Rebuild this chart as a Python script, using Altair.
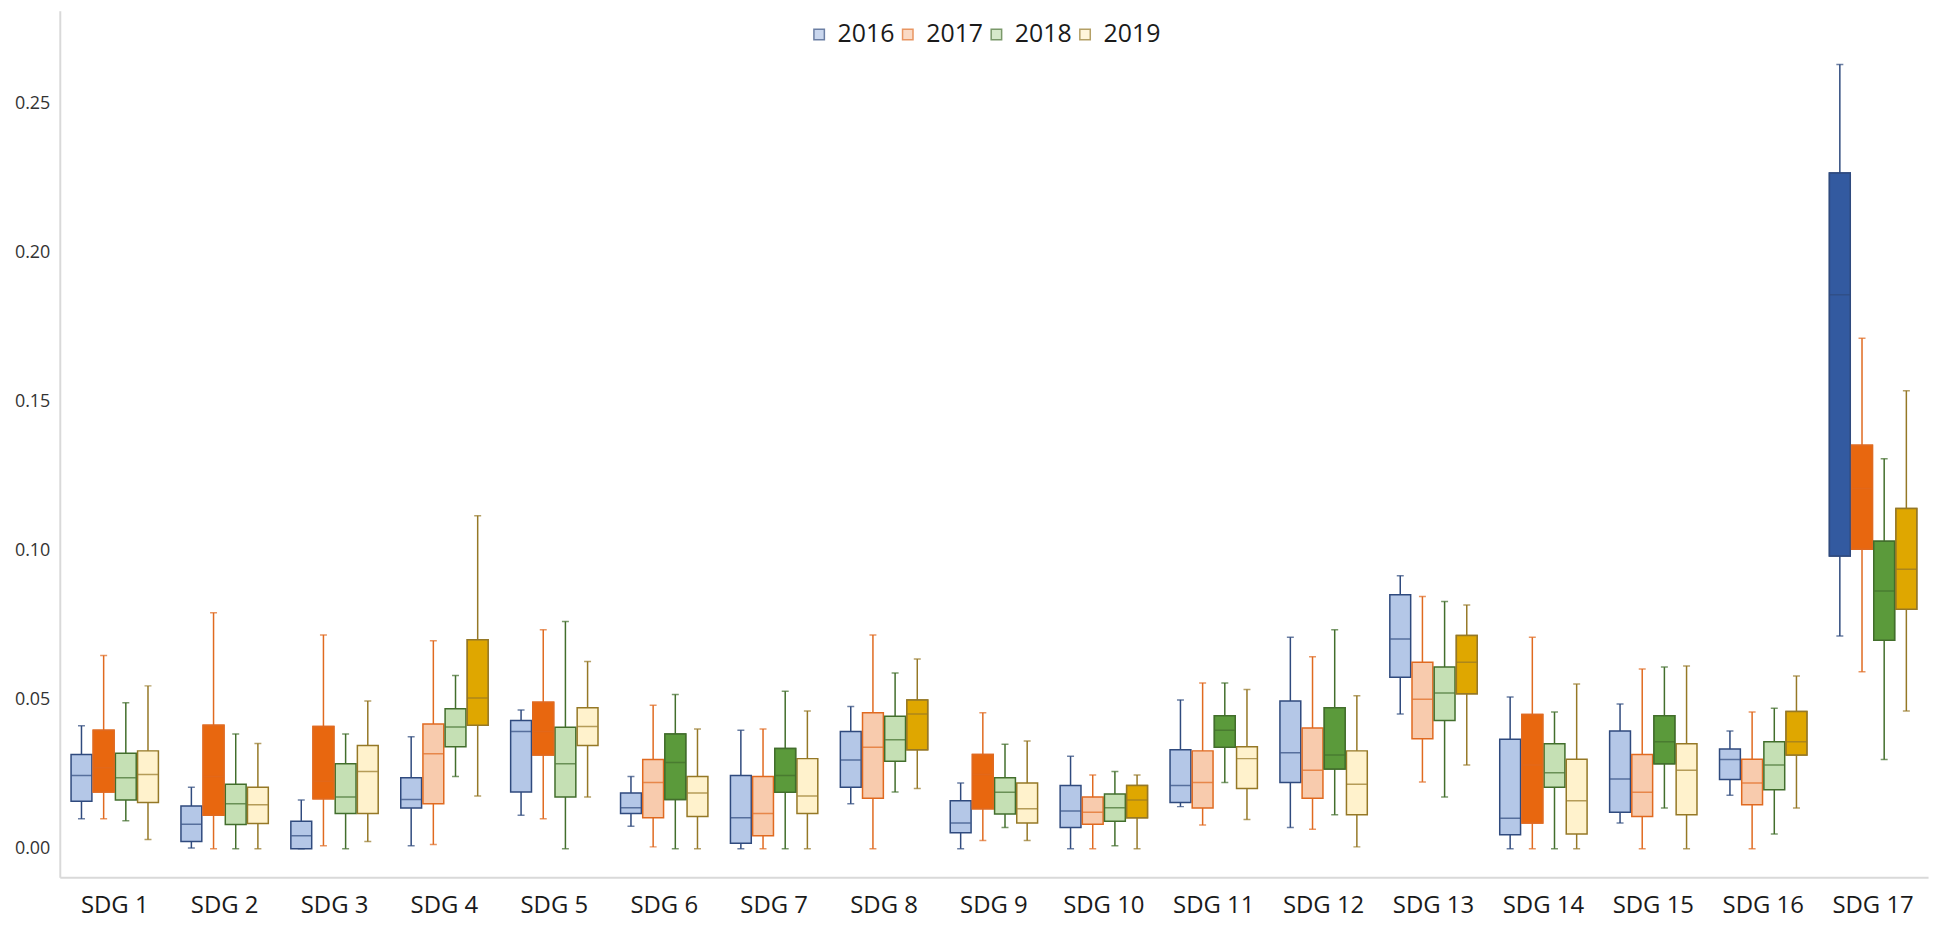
import altair as alt
import pandas as pd

sdgs = [f"SDG {i}" for i in range(1, 18)]
years = ["2016", "2017", "2018", "2019"]

# highlighted (dark) year per SDG
highlight = [["2017"], ["2017"], ["2017"], ["2019"], ["2017"], ["2018"], ["2018"], ["2019"],
             ["2017"], ["2019"], ["2018"], ["2018"], ["2019"], ["2017"], ["2018"], ["2019"],
             ["2016", "2017", "2018", "2019"]]

min_2016 = [0.0100, 0.0002, 0.0000, 0.0010, 0.0112, 0.0075, 0.0000, 0.0151, 0.0000, 0.0000, 0.0141, 0.0071, 0.0452, 0.0000, 0.0086, 0.0179, 0.0713]
q1_2016 = [0.0159, 0.0024, 0.0000, 0.0136, 0.0190, 0.0118, 0.0018, 0.0206, 0.0053, 0.0071, 0.0155, 0.0222, 0.0575, 0.0047, 0.0122, 0.0232, 0.0982]
med_2016 = [0.0245, 0.0082, 0.0043, 0.0165, 0.0393, 0.0137, 0.0104, 0.0297, 0.0086, 0.0126, 0.0212, 0.0322, 0.0703, 0.0102, 0.0234, 0.0299, 0.1858]
q3_2016 = [0.0316, 0.0143, 0.0092, 0.0238, 0.0430, 0.0187, 0.0245, 0.0393, 0.0161, 0.0212, 0.0332, 0.0495, 0.0852, 0.0367, 0.0395, 0.0334, 0.2266]
max_2016 = [0.0412, 0.0206, 0.0163, 0.0375, 0.0465, 0.0242, 0.0397, 0.0477, 0.0220, 0.0310, 0.0499, 0.0709, 0.0915, 0.0509, 0.0485, 0.0395, 0.2630]

min_2017 = [0.0100, 0.0000, 0.0010, 0.0014, 0.0100, 0.0006, 0.0000, 0.0000, 0.0027, 0.0000, 0.0079, 0.0065, 0.0224, 0.0000, 0.0000, 0.0000, 0.0593]
q1_2017 = [0.0190, 0.0112, 0.0167, 0.0151, 0.0314, 0.0104, 0.0043, 0.0169, 0.0134, 0.0082, 0.0136, 0.0169, 0.0369, 0.0086, 0.0108, 0.0147, 0.1004]
med_2017 = [0.0271, 0.0242, 0.0226, 0.0318, 0.0393, 0.0222, 0.0118, 0.0340, 0.0249, 0.0122, 0.0222, 0.0263, 0.0501, 0.0281, 0.0189, 0.0220, 0.1208]
q3_2017 = [0.0397, 0.0414, 0.0410, 0.0418, 0.0491, 0.0299, 0.0242, 0.0456, 0.0316, 0.0173, 0.0328, 0.0405, 0.0625, 0.0450, 0.0316, 0.0300, 0.1353]
max_2017 = [0.0648, 0.0791, 0.0717, 0.0697, 0.0734, 0.0481, 0.0401, 0.0717, 0.0456, 0.0247, 0.0556, 0.0644, 0.0846, 0.0709, 0.0603, 0.0458, 0.1712]

min_2018 = [0.0094, 0.0000, 0.0000, 0.0242, 0.0000, 0.0000, 0.0000, 0.0190, 0.0071, 0.0010, 0.0222, 0.0114, 0.0173, 0.0000, 0.0136, 0.0049, 0.0299]
q1_2018 = [0.0163, 0.0081, 0.0118, 0.0342, 0.0173, 0.0165, 0.0189, 0.0293, 0.0116, 0.0092, 0.0340, 0.0267, 0.0430, 0.0206, 0.0285, 0.0198, 0.0699]
med_2018 = [0.0238, 0.0151, 0.0173, 0.0408, 0.0285, 0.0289, 0.0245, 0.0365, 0.0189, 0.0137, 0.0397, 0.0314, 0.0522, 0.0255, 0.0359, 0.0281, 0.0864]
q3_2018 = [0.0320, 0.0216, 0.0285, 0.0469, 0.0407, 0.0385, 0.0336, 0.0444, 0.0238, 0.0183, 0.0446, 0.0473, 0.0609, 0.0352, 0.0446, 0.0359, 0.1031]
max_2018 = [0.0489, 0.0385, 0.0385, 0.0581, 0.0762, 0.0517, 0.0528, 0.0589, 0.0350, 0.0259, 0.0556, 0.0734, 0.0829, 0.0458, 0.0609, 0.0471, 0.1308]

min_2019 = [0.0031, 0.0000, 0.0024, 0.0177, 0.0173, 0.0000, 0.0000, 0.0202, 0.0027, 0.0000, 0.0098, 0.0006, 0.0281, 0.0000, 0.0000, 0.0136, 0.0462]
q1_2019 = [0.0155, 0.0084, 0.0118, 0.0414, 0.0346, 0.0108, 0.0118, 0.0332, 0.0086, 0.0104, 0.0202, 0.0114, 0.0520, 0.0049, 0.0114, 0.0314, 0.0803]
med_2019 = [0.0249, 0.0147, 0.0259, 0.0505, 0.0410, 0.0187, 0.0177, 0.0452, 0.0134, 0.0163, 0.0302, 0.0216, 0.0625, 0.0161, 0.0263, 0.0359, 0.0937]
q3_2019 = [0.0328, 0.0206, 0.0346, 0.0701, 0.0473, 0.0242, 0.0302, 0.0499, 0.0220, 0.0212, 0.0342, 0.0328, 0.0715, 0.0300, 0.0352, 0.0460, 0.1141]
max_2019 = [0.0546, 0.0353, 0.0495, 0.1117, 0.0628, 0.0401, 0.0462, 0.0636, 0.0361, 0.0247, 0.0534, 0.0513, 0.0817, 0.0552, 0.0613, 0.0579, 0.1536]

stats = {
    "2016": (min_2016, q1_2016, med_2016, q3_2016, max_2016),
    "2017": (min_2017, q1_2017, med_2017, q3_2017, max_2017),
    "2018": (min_2018, q1_2018, med_2018, q3_2018, max_2018),
    "2019": (min_2019, q1_2019, med_2019, q3_2019, max_2019),
}

rows = []
for i, s in enumerate(sdgs):
    for y in years:
        mn, q1, md, q3, mx = (arr[i] for arr in stats[y])
        rows.append(dict(sdg=s, year=y, lo=mn, q1=q1, med=md, q3=q3, hi=mx,
                         dark=y in highlight[i]))
df = pd.DataFrame(rows)

light_colors = ["#B4C7E7", "#F8CBAD", "#C5E0B4", "#FFF2CC"]
dark_colors = ["#335AA0", "#E8670F", "#5B9A3B", "#DFA700"]
line_colors = ["#2F4A7E", "#E06A20", "#426E2C", "#957826"]

FONT = "Open Sans"

legend = alt.Legend(orient="none", legendX=750, legendY=11, direction="horizontal", title=None,
                    labelFontSize=25, labelFont=FONT, labelColor="#1a1a1a", symbolType="square",
                    symbolSize=110, symbolStrokeWidth=1.5, labelOffset=6, columnPadding=-1,
                    padding=0)

x_enc = alt.X("sdg:N", sort=sdgs, title=None,
              scale=alt.Scale(paddingInner=0.193, paddingOuter=0.0965),
              axis=alt.Axis(labelAngle=0, ticks=False, domainColor="#d9d9d9", domainWidth=2,
                            labelFontSize=24, labelFont=FONT, labelColor="#1a1a1a",
                            labelPadding=16))
xo_enc = alt.XOffset("year:N", sort=years, scale=alt.Scale(paddingInner=0.06, paddingOuter=0.03))
y_scale = alt.Scale(domain=[-0.0096, 0.281], nice=False, zero=False)
y_axis = alt.Axis(values=[0, 0.05, 0.10, 0.15, 0.20, 0.25], format=".2f", grid=False, ticks=False,
                  domainColor="#d9d9d9", domainWidth=2, labelFontSize=18, labelFont=FONT,
                  labelColor="#333333", labelPadding=10, title=None)

stroke_enc = alt.Stroke("year:N", sort=years, scale=alt.Scale(domain=years, range=line_colors),
                        legend=legend)
fill_enc = alt.Fill("year:N", sort=years, scale=alt.Scale(domain=years, range=light_colors),
                    legend=legend)

base = alt.Chart(df).encode(x=x_enc, xOffset=xo_enc)

whisker = base.mark_rule(strokeWidth=1.5).encode(
    y=alt.Y("lo:Q", scale=y_scale, axis=y_axis), y2="hi:Q", stroke=stroke_enc)

cap_lo = base.mark_tick(size=7, thickness=0, filled=False, strokeWidth=1.5).encode(
    y=alt.Y("lo:Q"), stroke=stroke_enc)
cap_hi = base.mark_tick(size=7, thickness=0, filled=False, strokeWidth=1.5).encode(
    y=alt.Y("hi:Q"), stroke=stroke_enc)

box_light = base.mark_bar(strokeWidth=1.5).encode(
    y="q1:Q", y2="q3:Q", fill=fill_enc, stroke=stroke_enc)

box_dark = base.transform_filter(alt.datum.dark).mark_bar(strokeWidth=1.5).encode(
    y="q1:Q", y2="q3:Q",
    color=alt.Color("year:N", sort=years, scale=alt.Scale(domain=years, range=dark_colors),
                    legend=None),
    stroke=stroke_enc,
)

median = base.mark_tick(thickness=0, filled=False, strokeWidth=1.5, size=20).encode(
    y="med:Q", stroke=stroke_enc)

chart = alt.layer(whisker, cap_lo, cap_hi, box_light, box_dark, median).properties(
    width=1876, height=870,
    autosize=alt.AutoSizeParams(type="none"),
    padding={"left": 52, "top": 1, "right": 12, "bottom": 40},
    background="white",
).configure_view(stroke=None)

chart.save("out.html", embed_options={"renderer": "svg", "actions": False})
